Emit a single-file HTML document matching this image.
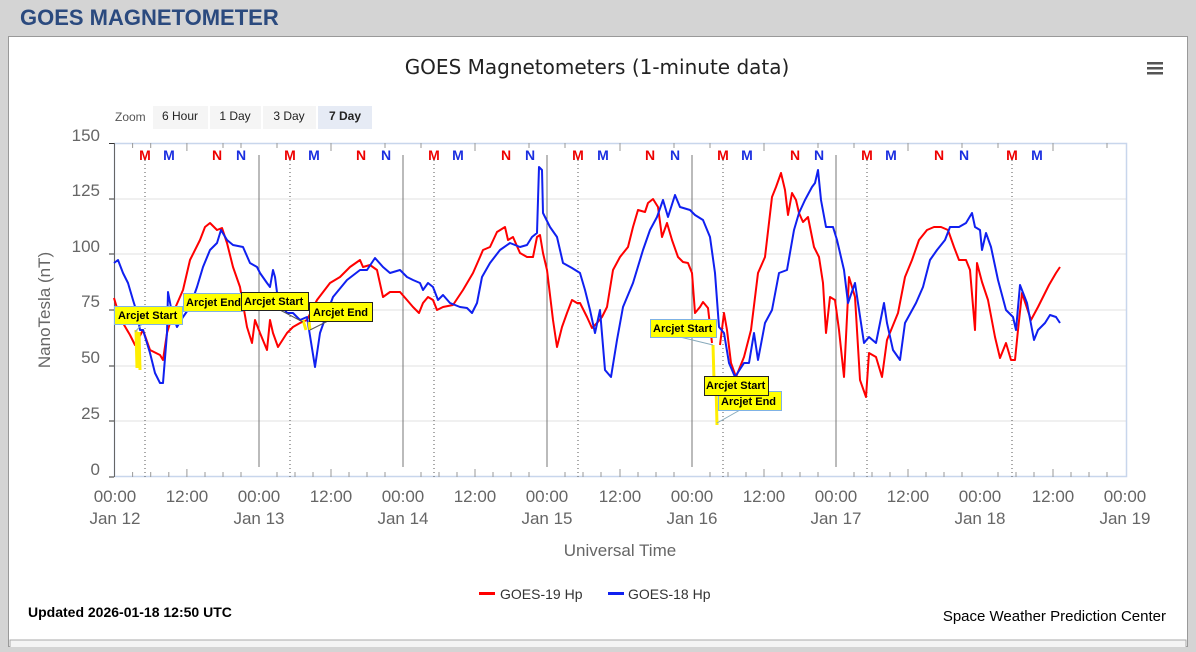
<!DOCTYPE html>
<html><head><meta charset="utf-8"><style>
body{margin:0;width:1196px;height:647px;background:#d4d4d4;overflow:hidden;font-family:"Liberation Sans",sans-serif}
</style></head><body>
<svg width="1196" height="647" xmlns="http://www.w3.org/2000/svg" font-family="Liberation Sans, sans-serif">
<rect x="0" y="0" width="1196" height="647" fill="#d4d4d4"/>
<text x="20" y="25" font-size="22" font-weight="bold" fill="#2b4a7e">GOES MAGNETOMETER</text>
<rect x="8.5" y="36.5" width="1179" height="610" fill="#fff" stroke="#999"/>
<rect x="10" y="640" width="1176" height="10" fill="#f4f4f4" stroke="#aaa"/>
<text x="597" y="74" font-size="20" text-anchor="middle" fill="#222" font-family="DejaVu Sans, sans-serif">GOES Magnetometers (1-minute data)</text>
<g fill="#555"><rect x="1147" y="62" width="16" height="2.5"/><rect x="1147" y="67" width="16" height="2.5"/><rect x="1147" y="72" width="16" height="2.5"/></g>
<text x="115" y="121" font-size="12" fill="#555">Zoom</text>
<rect x="153" y="106" width="55" height="23" fill="#f5f5f5"/><text x="180" y="120" font-size="12" text-anchor="middle" fill="#222">6 Hour</text>
<rect x="210" y="106" width="51" height="23" fill="#f5f5f5"/><text x="235" y="120" font-size="12" text-anchor="middle" fill="#222">1 Day</text>
<rect x="263" y="106" width="53" height="23" fill="#f5f5f5"/><text x="289" y="120" font-size="12" text-anchor="middle" fill="#222">3 Day</text>
<rect x="318" y="106" width="54" height="23" fill="#e6ebf5"/><text x="345" y="120" font-size="12" font-weight="bold" text-anchor="middle" fill="#222">7 Day</text>
<g stroke="#e0e0e0" stroke-width="1">
<line x1="114" y1="199" x2="1127" y2="199"/><line x1="114" y1="254" x2="1127" y2="254"/><line x1="114" y1="310" x2="1127" y2="310"/><line x1="114" y1="366" x2="1127" y2="366"/><line x1="114" y1="421" x2="1127" y2="421"/>
</g>
<rect x="114.5" y="143.5" width="1012" height="333" fill="none" stroke="#c8d6ec" stroke-width="1.5"/>
<line x1="114.5" y1="143" x2="114.5" y2="477" stroke="#666"/>
<g stroke="#333"><line x1="109" y1="143.5" x2="114" y2="143.5"/><line x1="109" y1="199" x2="114" y2="199"/><line x1="109" y1="254" x2="114" y2="254"/><line x1="109" y1="310" x2="114" y2="310"/><line x1="109" y1="366" x2="114" y2="366"/><line x1="109" y1="421" x2="114" y2="421"/><line x1="109" y1="477" x2="114" y2="477"/></g>
<g font-size="17" fill="#666" text-anchor="end">
<text x="100" y="141">150</text><text x="100" y="196">125</text><text x="100" y="252">100</text><text x="100" y="307">75</text><text x="100" y="363">50</text><text x="100" y="419">25</text><text x="100" y="475">0</text></g>
<text transform="translate(50,310) rotate(-90)" font-size="17" fill="#666" text-anchor="middle">NanoTesla (nT)</text>
<g stroke="#777" stroke-width="1"><line x1="259" y1="155" x2="259" y2="467"/><line x1="403" y1="155" x2="403" y2="467"/><line x1="547" y1="155" x2="547" y2="467"/><line x1="692" y1="155" x2="692" y2="467"/><line x1="836" y1="155" x2="836" y2="467"/></g>
<g stroke="#555" stroke-dasharray="1,3"><line x1="145" y1="160" x2="145" y2="477"/><line x1="290" y1="160" x2="290" y2="477"/><line x1="434" y1="160" x2="434" y2="477"/><line x1="578" y1="160" x2="578" y2="477"/><line x1="723" y1="160" x2="723" y2="477"/><line x1="867" y1="160" x2="867" y2="477"/><line x1="1012" y1="160" x2="1012" y2="477"/></g>
<g stroke="#999" stroke-width="1">
<path d="M132.6 477v-5M150.7 477v-5M168.8 477v-5M186.9 477v-8M205 477v-5M223 477v-5M241 477v-5M277 477v-5M295 477v-5M313 477v-5M331 477v-8M349 477v-5M367 477v-5M385 477v-5M421 477v-5M439 477v-5M457 477v-5M475 477v-8M493 477v-5M511 477v-5M529 477v-5M565 477v-5M583 477v-5M601 477v-5M620 477v-8M638 477v-5M656 477v-5M674 477v-5M710 477v-5M728 477v-5M746 477v-5M764 477v-8M782 477v-5M800 477v-5M818 477v-5M854 477v-5M872 477v-5M890 477v-5M908 477v-8M926 477v-5M944 477v-5M962 477v-5M998 477v-5M1016 477v-5M1034 477v-5M1053 477v-8M1071 477v-5M1089 477v-5M1107 477v-5"/>
<path d="M132.6 143v5M150.7 143v5M186.9 143v8M223 143v5M241 143v5M277 143v5M331 143v8M385 143v5M421 143v5M475 143v8M529 143v5M565 143v5M620 143v8M674 143v5M710 143v5M764 143v8M818 143v5M854 143v5M908 143v8M962 143v5M998 143v5M1053 143v8M1107 143v5"/>
</g>
<g font-size="14" font-weight="bold" text-anchor="middle">
<g fill="#e00"><text x="145" y="160">M</text><text x="217" y="160">N</text><text x="290" y="160">M</text><text x="361" y="160">N</text><text x="434" y="160">M</text><text x="506" y="160">N</text><text x="578" y="160">M</text><text x="650" y="160">N</text><text x="723" y="160">M</text><text x="795" y="160">N</text><text x="867" y="160">M</text><text x="939" y="160">N</text><text x="1012" y="160">M</text></g>
<g fill="#1a2ee0"><text x="169" y="160">M</text><text x="241" y="160">N</text><text x="314" y="160">M</text><text x="386" y="160">N</text><text x="458" y="160">M</text><text x="530" y="160">N</text><text x="603" y="160">M</text><text x="675" y="160">N</text><text x="747" y="160">M</text><text x="819" y="160">N</text><text x="891" y="160">M</text><text x="964" y="160">N</text><text x="1037" y="160">M</text></g>
</g>
<polyline fill="none" stroke="#ff0000" stroke-width="2" stroke-linejoin="round" points="114,298 120,318 130,335 135,345 143,330 150,350 160,355 163,360 167,333 173,313 183,290 190,260 200,240 205,227 210,223 217,230 222,228 227,243 233,267 240,287 247,327 252,343 255,320 260,333 267,350 270,320 273,333 278,347 287,333 293,327 300,323 307,320 317,300 330,283 340,277 350,267 360,260 363,267 370,265 377,270 383,297 390,292 400,292 407,300 413,307 419,313 423,303 428,297 433,300 437,310 443,307 453,305 463,290 473,273 480,257 483,250 490,247 497,232 505,227 508,240 513,237 520,253 527,257 533,257 537,237 540,235 543,253 547,270 553,320 557,347 562,327 567,313 572,300 577,303 580,303 587,317 592,328 597,323 602,317 607,307 613,270 620,257 628,247 633,227 638,210 645,212 648,203 653,199 658,207 662,237 667,223 672,240 678,257 683,262 688,263 692,273 695,313 700,307 703,302 708,308 712,343"/>
<polyline fill="none" stroke="#ff0000" stroke-width="2" stroke-linejoin="round" points="720,345 724,313 727,330 731,363 736,377 744,357 751,330 758,273 765,257 772,197 776,187 781,173 785,190 788,215 792,193 796,200 799,213 803,222 808,217 814,247 819,257 823,283 826,333 830,297 835,300 839,330 844,377 849,277 855,297 860,380 866,397 869,353 876,357 882,377 887,340 898,313 905,277 912,260 919,240 927,230 934,227 941,227 948,230 954,247 959,260 966,260 970,270 975,330 977,263 982,282 988,300 995,337 1000,358 1006,343 1011,360 1015,360 1018,330 1022,293 1031,320 1038,307 1049,285 1056,273 1060,267"/>
<polyline fill="none" stroke="#1020f0" stroke-width="2" stroke-linejoin="round" points="114,263 118,260 123,273 128,283 133,300 137,313 140,330 143,330 150,353 155,373 160,383 163,383 167,333 168,292 172,313 177,327 183,317 190,307 197,287 203,267 210,250 217,243 221,230 227,240 233,245 243,247 250,263 257,267 260,273 267,283 270,287 273,270 275,277 278,300 287,313 293,313 300,320 307,317 315,367 320,333 327,313 333,297 347,280 360,270 367,270 375,258 383,267 390,273 400,270 407,277 413,280 420,283 423,290 428,283 433,287 438,300 443,295 450,303 460,307 467,308 472,313 477,303 482,277 490,263 500,250 510,243 520,247 527,245 532,237 537,233 539,167 542,170 543,213 550,227 557,237 563,263 572,268 580,273 585,290 590,310 595,333 600,310 605,370 611,377 617,340 623,307 633,283 643,250 650,230 657,217 663,200 668,217 675,195 680,207 690,210 695,215 703,220 710,237 715,273 719,327 724,333 729,363 735,377 744,363 749,363 754,333 758,360 765,323 772,310 779,273 787,270 794,230 799,213 805,200 812,187 815,183 818,170 821,200 826,227 833,227 837,240 844,270 848,303 855,283 858,303 864,343 869,337 876,343 884,303 887,323 893,350 900,360 905,323 916,303 923,287 930,260 937,250 945,240 950,227 959,227 966,223 972,213 975,227 980,230 982,250 986,233 991,247 998,280 1006,310 1013,317 1016,330 1020,285 1027,303 1034,340 1038,330 1045,323 1050,315 1056,317 1060,323"/>
<g stroke="#ffee00" stroke-width="3" fill="none">
<path d="M136 330 L137 368 M139 332 L140 370"/><path d="M303 320 L306 330 M309 322 L310 330"/><path d="M713 345 L714 380 M716 385 L717 425"/>
</g>
<g stroke-width="1">
<line x1="150" y1="315" x2="135" y2="332" stroke="#8ab"/>
<line x1="183" y1="311" x2="245" y2="305" stroke="#8ab"/>
<line x1="280" y1="310" x2="303" y2="322" stroke="#555"/>
<line x1="330" y1="320" x2="310" y2="330" stroke="#555"/>
<line x1="680" y1="337" x2="713" y2="345" stroke="#8ab"/>
<line x1="740" y1="410" x2="717" y2="423" stroke="#8ab"/>
</g>
<g font-size="11" font-weight="bold" fill="#000">
<rect x="114.5" y="306.5" width="68" height="18" fill="#ffff00" stroke="#7fb2e5"/><text x="118" y="319">Arcjet Start</text>
<rect x="183.5" y="293.5" width="59" height="18" fill="#ffff00" stroke="#7fb2e5"/><text x="186" y="306">Arcjet End</text>
<rect x="241.5" y="292.5" width="67" height="18" fill="#ffff00" stroke="#222"/><text x="244" y="305">Arcjet Start</text>
<rect x="309.5" y="302.5" width="63" height="19" fill="#ffff00" stroke="#222"/><text x="313" y="316">Arcjet End</text>
<rect x="650.5" y="319.5" width="66" height="18" fill="#ffff00" stroke="#7fb2e5"/><text x="653" y="332">Arcjet Start</text>
<rect x="718.5" y="391.5" width="63" height="19" fill="#ffff00" stroke="#7fb2e5"/><text x="721" y="405">Arcjet End</text>
<rect x="704.5" y="376.5" width="64" height="19" fill="#ffff00" stroke="#222"/><text x="706" y="389">Arcjet Start</text>
</g>
<g font-size="17" fill="#666" text-anchor="middle">
<text x="115" y="502">00:00</text><text x="115" y="524">Jan 12</text>
<text x="187" y="502">12:00</text>
<text x="259" y="502">00:00</text><text x="259" y="524">Jan 13</text>
<text x="331" y="502">12:00</text>
<text x="403" y="502">00:00</text><text x="403" y="524">Jan 14</text>
<text x="475" y="502">12:00</text>
<text x="547" y="502">00:00</text><text x="547" y="524">Jan 15</text>
<text x="620" y="502">12:00</text>
<text x="692" y="502">00:00</text><text x="692" y="524">Jan 16</text>
<text x="764" y="502">12:00</text>
<text x="836" y="502">00:00</text><text x="836" y="524">Jan 17</text>
<text x="908" y="502">12:00</text>
<text x="980" y="502">00:00</text><text x="980" y="524">Jan 18</text>
<text x="1053" y="502">12:00</text>
<text x="1125" y="502">00:00</text><text x="1125" y="524">Jan 19</text>
<text x="620" y="556">Universal Time</text>
</g>
<rect x="479" y="592" width="16" height="3" fill="#ff0000"/>
<text x="500" y="599" font-size="14" fill="#333">GOES-19 Hp</text>
<rect x="608" y="592" width="16" height="3" fill="#1020f0"/>
<text x="628" y="599" font-size="14" fill="#333">GOES-18 Hp</text>
<text x="28" y="617" font-size="14" font-weight="bold" fill="#000">Updated 2026-01-18 12:50 UTC</text>
<text x="1166" y="621" font-size="15" text-anchor="end" fill="#000">Space Weather Prediction Center</text>
</svg>
</body></html>
